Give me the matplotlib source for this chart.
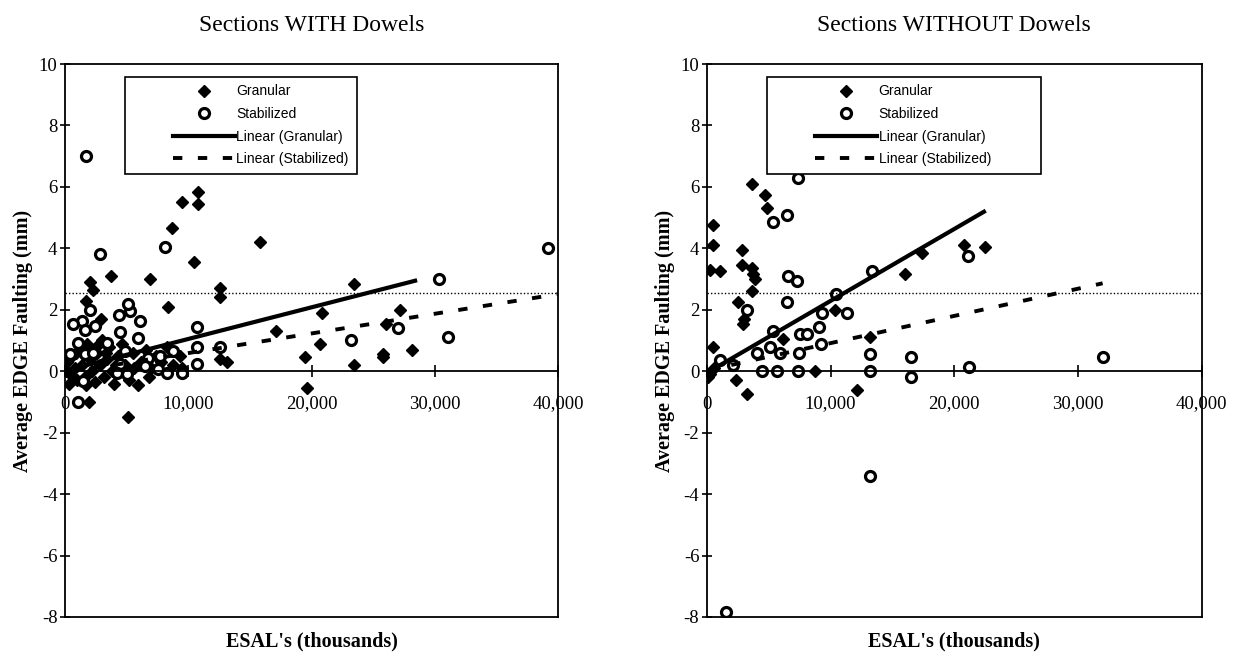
import matplotlib.pyplot as plt
from matplotlib.lines import Line2D
from matplotlib.legend_handler import HandlerLine2D
import numpy as np

plt.rcParams['font.family'] = 'serif'
plt.rcParams['font.serif'] = ['Liberation Serif', 'DejaVu Serif']
plt.rcParams['axes.unicode_minus'] = False

# ---- Sections WITH dowels (ESAL's in thousands, faulting in mm) ----
wd_gran_x = [100, 200, 300, 400, 600, 800, 900, 1000, 1200, 1400, 1600, 1700, 1800,
             2000, 2200, 2400, 2500, 2600, 2800, 3000, 3200, 3300, 3400, 3600, 3800,
             4000, 4100, 4300, 4600, 4900, 5200, 5500, 5600, 5900, 6200, 6600, 6800,
             7000, 7400, 7800, 8300, 8800, 9300, 9500,
             1700, 2020, 2260, 2900, 3720, 6870, 8320, 8650, 9450, 10750, 10750,
             10500, 15840, 12600, 12600, 23430, 20850, 17130, 20690, 19470, 19600,
             12600, 13170, 27150, 26000, 25780, 25780, 28120, 23430, 1940, 5090]
wd_gran_y = [0.0, 0.3, -0.4, -0.1, 0.5, 0.1, 0.6, -0.3, 0.7, 0.2, -0.2, -0.45, 0.9,
             0.4, 0.0, -0.35, 0.8, 0.6, 0.2, 1.0, -0.2, 0.6, 0.4, 0.8, 0.0,
             -0.4, 0.2, 0.5, 0.9, 0.2, -0.3, 0.6, 0.1, -0.45, 0.3, 0.7, -0.2,
             0.1, 0.5, 0.3, 0.8, 0.2, 0.5, 0.1,
             2.3, 2.9, 2.65, 1.7, 3.1, 3.0, 2.1, 4.65, 5.5, 5.85, 5.45,
             3.55, 4.2, 2.7, 2.4, 2.85, 1.9, 1.3, 0.9, 0.45, -0.55,
             0.4, 0.3, 2.0, 1.55, 0.55, 0.45, 0.7, 0.2, -1.0, -1.5]
wd_stab_x = [1370, 650, 1620, 2420, 4360, 5250, 5090, 6060, 4440, 5900, 10670,
             1050, 3390, 400, 1620, 2260, 4850, 6710, 7680, 4440, 6460, 7510,
             4200, 5010, 1450, 8240, 9530, 10670, 10670, 8730,
             1700, 2830, 8080, 2020, 12600, 39190, 30300, 26990, 23190, 31030, 1050]
wd_stab_y = [1.62, 1.53, 1.33, 1.46, 1.82, 1.95, 2.18, 1.62, 1.27, 1.07, 1.43,
             0.91, 0.91, 0.55, 0.55, 0.58, 0.65, 0.42, 0.49, 0.23, 0.16, 0.06,
             -0.06, -0.1, -0.32, -0.06, -0.06, 0.8, 0.23, 0.65,
             7.0, 3.8, 4.05, 2.0, 0.8, 4.0, 3.0, 1.4, 1.0, 1.1, -1.0]
wd_gran_fit = (0.02, 1.03e-4, 28400)     # intercept, slope, last x
wd_stab_fit = (-0.05, 6.4e-5, 40000)

# ---- Sections WITHOUT dowels ----
wod_gran_x = [3650, 4700, 4870, 490, 490, 2840, 240, 1050, 2840, 3650, 3730, 3890,
              3650, 2510, 2920, 2980, 490, 240, 100, 600, 2350, 3240, 12170, 8760,
              10380, 6160, 13220, 15980, 17430, 20760, 22460]
wod_gran_y = [6.1, 5.75, 5.3, 4.75, 4.1, 3.95, 3.3, 3.25, 3.45, 3.35, 3.15, 3.0,
              2.6, 2.25, 1.55, 1.7, 0.8, -0.1, -0.2, 0.1, -0.3, -0.75, -0.6, 0.0,
              2.0, 1.05, 1.1, 3.15, 3.85, 4.1, 4.05]
wod_stab_x = [7400, 5350, 6490, 6570, 7300, 6490, 3240, 10460, 13380, 11350, 9330,
              9080, 7540, 8110, 5350, 5110, 5920, 7460, 9250, 4050, 2110, 1050,
              4460, 5680, 7380, 13220, 13220, 16460, 16460, 21080, 21170, 32030,
              13220, 1540]
wod_stab_y = [6.3, 4.85, 5.1, 3.1, 2.95, 2.25, 2.0, 2.5, 3.25, 1.9, 1.9,
              1.45, 1.2, 1.2, 1.3, 0.8, 0.6, 0.6, 0.9, 0.6, 0.2, 0.35,
              0.0, 0.0, 0.0, 0.55, 0.0, 0.45, -0.2, 3.75, 0.15, 0.45,
              -3.4, -7.85]
wod_gran_fit = (-0.05, 2.34e-4, 22400)
wod_stab_fit = (0.03, 8.85e-5, 32000)

limit_line = 2.54
x_ticks = [0, 10000, 20000, 30000, 40000]
x_ticklabels = ['0', '10,000', '20,000', '30,000', '40,000']
y_ticks = [-8, -6, -4, -2, 0, 2, 4, 6, 8, 10]


def draw(ax, title, gx, gy, sx, sy, gfit, sfit, extra_pad):
    ax.plot(gx, gy, ls='none', marker='D', ms=6.6, color='black', label='Granular')
    ax.plot(sx, sy, ls='none', marker='o', ms=7.2, mfc='white', mec='black',
            mew=2.3, label='Stabilized')
    xg = np.array([0, gfit[2]])
    ax.plot(xg, gfit[0] + gfit[1] * xg, color='black', lw=3.0, label='Linear (Granular)')
    xs = np.array([0, sfit[2]])
    ax.plot(xs, sfit[0] + sfit[1] * xs, color='black', lw=2.8, ls=(0, (2.4, 4.0)),
            label='Linear (Stabilized)')
    ax.axhline(limit_line, color='black', lw=1.0, ls=(0, (1, 1.5)))

    ax.set_xlim(0, 40000)
    ax.set_ylim(-8, 10)
    ax.set_xticks(x_ticks)
    ax.set_xticklabels(x_ticklabels)
    ax.set_yticks(y_ticks)
    for s in ax.spines.values():
        s.set_linewidth(1.3)
    ax.spines['bottom'].set_position(('data', 0))
    ax.axhline(-8, color='black', lw=1.3, clip_on=False)
    ax.tick_params(axis='x', direction='inout', length=9, width=1.2, pad=13, labelsize=13.5)
    ax.tick_params(axis='y', direction='inout', length=7, width=1.2, pad=2, labelsize=13.5)

    ax.set_title(title, fontsize=17, pad=24)
    ax.set_ylabel('Average EDGE Faulting (mm)', fontsize=14.5, fontweight='bold', labelpad=4)
    ax.text(0.5, -0.045, "ESAL's (thousands)", transform=ax.transAxes, ha='center',
            va='center', fontsize=14.5, fontweight='bold')

    labels = ['Granular', 'Stabilized', 'Linear (Granular)', 'Linear (Stabilized)' + extra_pad]
    leg = ax.legend(ax.get_lines()[:4], labels, loc='upper left',
                    bbox_to_anchor=(0.121, 0.977), frameon=True,
                    fancybox=False, edgecolor='black', framealpha=1, numpoints=1,
                    prop={'family': 'Liberation Sans', 'size': 10},
                    handlelength=7.4, handletextpad=0.1, borderpad=0.55,
                    labelspacing=0.62, borderaxespad=0,
                    handler_map={Line2D: HandlerLine2D(xpad=2.9)})
    leg.get_frame().set_linewidth(1.2)
    leg.set_zorder(10)


fig = plt.figure(figsize=(12.41, 6.64), dpi=100)
ax1 = fig.add_axes([0.0524, 0.0708, 0.3973, 0.8328])
ax2 = fig.add_axes([0.5697, 0.0708, 0.3985, 0.8328])

draw(ax1, 'Sections WITH Dowels', wd_gran_x, wd_gran_y, wd_stab_x, wd_stab_y,
     wd_gran_fit, wd_stab_fit, '')
draw(ax2, 'Sections WITHOUT Dowels', wod_gran_x, wod_gran_y, wod_stab_x, wod_stab_y,
     wod_gran_fit, wod_stab_fit, '           ')

fig.savefig('out.png', dpi=100)
